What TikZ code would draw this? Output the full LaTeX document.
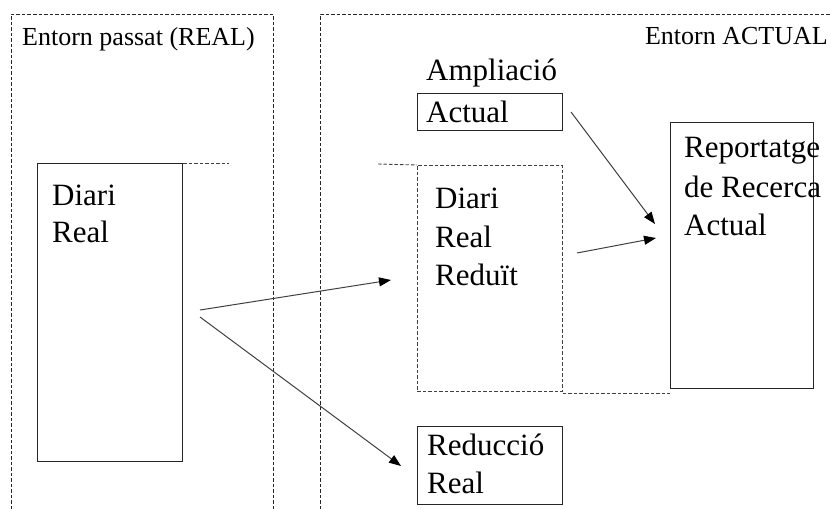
\documentclass[tikz,border=0pt]{standalone}
\usepackage{fontspec}
\setmainfont{Liberation Serif}
\usetikzlibrary{arrows.meta}
\begin{document}
\begin{tikzpicture}[x=1pt,y=-1pt,
  frame/.style={draw=black!85,line width=0.9pt,dash pattern=on 3.5pt off 2pt},
  solidbox/.style={draw=black!85,line width=1pt,rectangle,inner sep=0pt,anchor=north west},
  dashbox/.style={solidbox,draw=black!75,line width=0.9pt,dash pattern=on 3.5pt off 2pt},
  big/.style={font=\fontsize{31}{38}\selectfont,anchor=base west,inner sep=0pt},
  small/.style={font=\fontsize{26}{30}\selectfont,inner sep=0pt},
  conn/.style={draw=black!75,line width=1pt,-{Triangle[length=12pt,width=9pt,color=black]}}]
\useasboundingbox (0,0) rectangle (831,509);
% environment frames
\draw[frame] (11,509) -- (11,14) -- (273,14) -- (273,509);
\draw[frame] (320,509) -- (320,14) -- (831,14);
\node[small,anchor=base west] (lbl1) at (22,45) {Entorn passat (REAL)};
\node[small,anchor=base east] (lbl2) at (828,44) {Entorn ACTUAL};
% boxes
\node[solidbox,minimum width=145pt,minimum height=298pt] (diari) at (37,163) {};
\node[dashbox,minimum width=145pt,minimum height=226pt] (reduit) at (417,165) {};
\node[solidbox,minimum width=145pt,minimum height=37pt] (ampl) at (417,93) {};
\node[solidbox,minimum width=143pt,minimum height=266pt] (report) at (670,122) {};
\node[solidbox,minimum width=145pt,minimum height=78pt] (reduc) at (417,426) {};
% dashed guide lines
\draw[frame,draw=black!75] (diari.north east) -- ++(46,0);
\draw[frame,draw=black!75] (378,164) -- (reduit.north west);
\draw[frame,draw=black!75] ([yshift=-2pt]reduit.south east) -- ([yshift=-2pt]report.south west |- reduit.south east);
% texts
\node[big] (t1) at (52,205) {Diari};
\node[big] (t2) at (52,242) {Real};
\node[big] (t3) at (435,208) {Diari};
\node[big] (t4) at (435,247) {Real};
\node[big] (t5) at (435,285) {Reduït};
\node[big] (t6) at (426,80) {Ampliació};
\node[big] (t7) at (426,122) {Actual};
\node[big] (t8) at (684,157) {Reportatge};
\node[big] (t9) at (684,197) {de Recerca};
\node[big] (t10) at (684,235) {Actual};
\node[big] (t11) at (427,455) {Reducció};
\node[big] (t12) at (427,493) {Real};
% connector ends
\coordinate (a1s) at (200,310);
\coordinate (a1e) at (391,280);
\coordinate (a2s) at (200,317);
\coordinate (a2e) at (401,466);
\coordinate (a3s) at (571,112);
\coordinate (a3e) at (655,224);
\coordinate (a4s) at (577,253);
\coordinate (a4e) at (656,238);
\draw[conn] (a1s) -- (a1e);
\draw[conn] (a2s) -- (a2e);
\draw[conn] (a3s) -- (a3e);
\draw[conn] (a4s) -- (a4e);
\end{tikzpicture}
\end{document}
